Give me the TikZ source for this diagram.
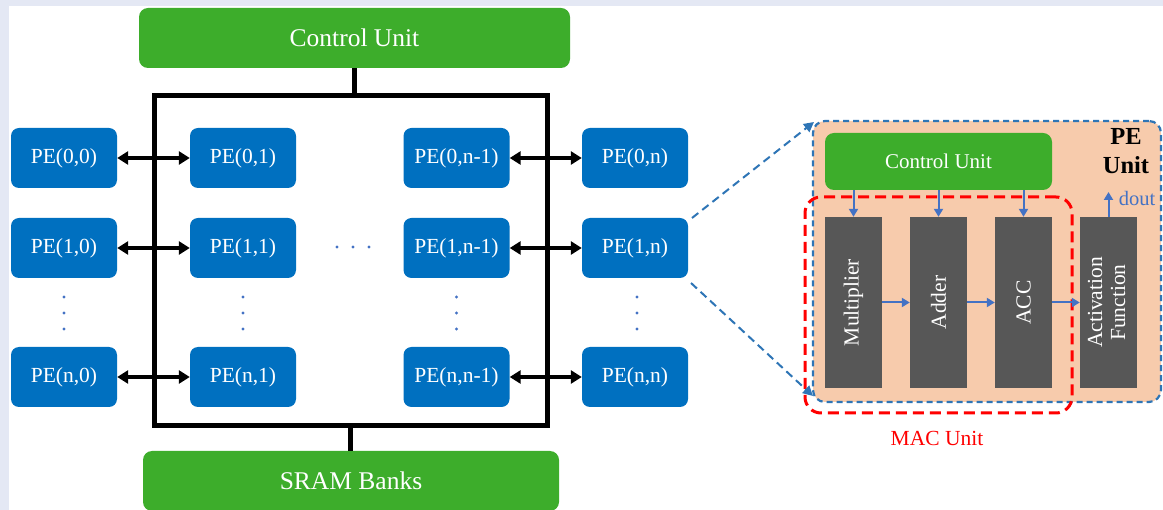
\documentclass[tikz,border=0pt]{standalone}
\usepackage{fontspec}
\setmainfont{Liberation Serif}
\usetikzlibrary{arrows.meta,calc}
\definecolor{bgband}{HTML}{E4E8F4}
\definecolor{peblue}{HTML}{0070C0}
\definecolor{cugreen}{HTML}{3DAD2B}
\definecolor{boxgray}{HTML}{575757}
\definecolor{peach}{HTML}{F7CBAC}
\definecolor{dashblue}{HTML}{2E75B6}
\definecolor{arrblue}{HTML}{4472C4}
\definecolor{macred}{HTML}{FF0000}
\tikzset{
  greenbox/.style={fill=cugreen, rounded corners=9pt, text=white, inner sep=0pt},
  pebox/.style={fill=peblue, rounded corners=8pt, minimum width=106pt, minimum height=60pt,
    text=white, inner sep=0pt, font=\fontsize{21.5}{24}\selectfont},
  biarrow/.style={line width=3.5pt, {Triangle[length=11pt,width=13pt]}-{Triangle[length=11pt,width=13pt]}},
  bus/.style={draw, line width=5pt, inner sep=0pt},
  busline/.style={line width=5pt},
  graybox/.style={fill=boxgray, minimum width=57pt, minimum height=171pt, inner sep=0pt,
    text=white, font=\fontsize{21.5}{25}\selectfont, align=center},
  bluearrow/.style={draw=arrblue, line width=2pt, -{Triangle[length=8pt,width=9pt]}},
  zoomline/.style={draw=dashblue, line width=2pt, dash pattern=on 8pt off 5pt, -{Triangle[length=10pt,width=10pt]}},
  dotmark/.style={fill=arrblue},
}
\begin{document}
\begin{tikzpicture}[x=1pt,y=-1pt]
\useasboundingbox (0,0) rectangle (1163,510);
\fill[bgband] (0,0) rectangle (1163,510);
\fill[white] (9,6) rectangle (1163,510);

% ---- left array ----
\node[bus, minimum width=393pt, minimum height=330pt] (busrect) at (350.5,261) {};
\node[greenbox, minimum width=431pt, minimum height=60pt, font=\fontsize{25.5}{28}\selectfont] (cu) at (354.5,38) {Control Unit};
\node[greenbox, minimum width=416pt, minimum height=60pt, font=\fontsize{25.5}{28}\selectfont] (sram) at (351,481) {SRAM Banks};
\draw[busline] (cu.south -| 354.5,0) -- (354.5,96);
\draw[busline] (350,426) -- (sram.north -| 350,0);

\foreach \r/\ry/\rn in {0/158/0, 1/248/1, n/377/n}{
  \node[pebox] (pe\r a) at (64,\ry) {PE(\rn,0)};
  \node[pebox] (pe\r b) at (243,\ry) {PE(\rn,1)};
  \node[pebox] (pe\r c) at (456.5,\ry) {PE(\rn,n-1)};
  \node[pebox] (pe\r d) at (635,\ry) {PE(\rn,n)};
  \draw[biarrow] (pe\r a) -- (pe\r b);
  \draw[biarrow] (pe\r c) -- (pe\r d);
}
\foreach \cx in {64,243,456.5,637}{
  \foreach \dy in {297,313,329}{
    \fill[dotmark] (\cx,\dy) circle (1.6pt);
  }
}
\foreach \dx in {337,353,369}{
  \fill[dotmark] (\dx,247) circle (1.6pt);
}

% ---- PE unit detail ----
\node[fill=peach, draw=dashblue, line width=2.2pt, dash pattern=on 6pt off 4pt, rounded corners=12pt,
  minimum width=348pt, minimum height=281pt, inner sep=0pt] (peunit) at (987,261.5) {};
\node[greenbox, minimum width=227pt, minimum height=57pt, font=\fontsize{21}{24}\selectfont] (cu2) at (938.5,161.5) {Control Unit};
\node[font=\fontsize{24.5}{29}\selectfont\bfseries, align=center, inner sep=0pt] (pelabel) at (1126,151) {PE\\Unit};
\node[draw=macred, line width=3pt, dash pattern=on 11pt off 6pt, rounded corners=16pt,
  minimum width=267pt, minimum height=216pt, inner sep=0pt] (mac) at (938.5,305) {};
\node[text=macred, font=\fontsize{21.5}{24}\selectfont, inner sep=0pt] (maclabel) at (937,438) {MAC Unit};

\node[graybox] (mul) at (853.5,302.5) {\rotatebox{90}{Multiplier}};
\node[graybox] (add) at (938.5,302.5) {\rotatebox{90}{Adder}};
\node[graybox] (acc) at (1023.5,302.5) {\rotatebox{90}{ACC}};
\node[graybox] (act) at (1108.5,302.5) {\rotatebox{90}{\begin{tabular}{@{}c@{}}Activation\\[-2pt]Function\end{tabular}}};

\foreach \b in {mul,add,acc}{
  \draw[bluearrow] (cu2.south -| \b.north) -- (\b.north);
}
\draw[bluearrow] (mul.east) -- (add.west);
\draw[bluearrow] (add.east) -- (acc.west);
\draw[bluearrow] (acc.east) -- (act.west);
\coordinate (doutend) at (1108.5,192);
\draw[bluearrow] (act.north) -- (doutend);
\node[text=arrblue, font=\fontsize{20.5}{23}\selectfont, inner sep=0pt] (dout) at (1137,198) {dout};

% ---- zoom lines ----
\coordinate (zs1) at (692,218);
\coordinate (ze1) at (814,122);
\coordinate (zs2) at (691,283);
\coordinate (ze2) at (813,396);
\draw[zoomline] (zs1) -- (ze1);
\draw[zoomline] (zs2) -- (ze2);
\end{tikzpicture}
\end{document}
